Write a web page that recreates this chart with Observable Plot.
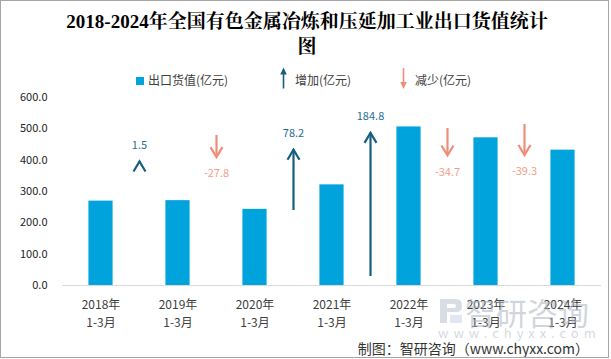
<!DOCTYPE html>
<html><head><meta charset="utf-8">
<script src="https://cdn.jsdelivr.net/npm/d3@7"></script>
<script src="https://cdn.jsdelivr.net/npm/@observablehq/plot@0.6"></script>
<style>
html,body{margin:0;padding:0;background:#fff;}
body{width:611px;height:359px;overflow:hidden;position:relative;font-family:"Noto Sans CJK SC",sans-serif;}
#chart{position:absolute;left:0;top:0;}
.frame{position:absolute;left:0;top:0;width:609px;height:358px;box-sizing:border-box;border:1px solid #a6a6a6;pointer-events:none;}
.title{position:absolute;left:0;width:614px;top:9px;text-align:center;font-weight:bold;font-size:19px;line-height:25px;font-family:"Liberation Serif","Noto Serif CJK SC","Noto Sans CJK SC",serif;color:#000;}
.lg{position:absolute;font-size:12px;line-height:16px;color:#404040;white-space:nowrap;}
.sw{position:absolute;left:136px;top:77px;width:8px;height:8px;}
.cap{position:absolute;right:22px;top:338px;font-size:14px;line-height:20px;color:#333;white-space:nowrap;}
.wm{position:absolute;pointer-events:none;white-space:nowrap;}
</style>
</head><body>
<div id="chart"></div>
<div class="title">2018-2024年全国有色金属冶炼和压延加工业出口货值统计<br>图</div>
<div class="legend"></div>
<div class="cap">制图：智研咨询（www.chyxx.com）</div>
<div class="frame"></div>
<script>
// ---- data ----
const years = ["2018年", "2019年", "2020年", "2021年", "2022年", "2023年", "2024年"];
const period = "1-3月";
const exportValue = [269.3, 270.8, 243.0, 321.2, 506.0, 471.3, 432.0];   // 出口货值(亿元)
const changeValue = [1.5, -27.8, 78.2, 184.8, -34.7, -39.3];             // 增加/减少(亿元)
const arrowBase = [392, 478.7, 239.4, 28.7, 501, 513.8];                 // arrow start (primary-axis units)
const arrowScale = 2.48;                                                  // secondary axis factor
const yTicks = [0, 100, 200, 300, 400, 500, 600];
const legendLabels = ["出口货值(亿元)", "增加(亿元)", "减少(亿元)"];

const BAR = "#00A3DB", UP = "#14607E", DOWN = "#F08C78";
const UPTXT = "#1f6f95", DOWNTXT = "#f39f8a";

const bars = exportValue.map((v, i) => ({i, v}));
const arrows = changeValue.map((c, j) => ({
  x: j + 0.5, c, base: arrowBase[j], tip: arrowBase[j] + c * arrowScale
}));
const ups = arrows.filter(d => d.c > 0);
const downs = arrows.filter(d => d.c < 0);

const chevron = {
  draw(ctx) { ctx.moveTo(-6, 10); ctx.lineTo(0, 0); ctx.lineTo(6, 10); }
};

const chart = Plot.plot({
  width: 611, height: 359,
  marginTop: 97, marginBottom: 74, marginLeft: 62, marginRight: 10,
  style: {fontFamily: '"Noto Sans CJK SC", sans-serif', background: "transparent", overflow: "visible"},
  x: {domain: [-0.5, years.length - 0.5]},
  y: {domain: [0, 600]},
  marks: [
    Plot.ruleY([0], {stroke: "#d9d9d9", strokeWidth: 1}),
    Plot.rectY(bars, {x1: d => d.i - 0.157, x2: d => d.i + 0.157, y1: 0, y2: "v", fill: BAR}),
    Plot.ruleX(ups, {x: "x", y1: "base", y2: "tip", stroke: UP, strokeWidth: 2.2}),
    Plot.ruleX(downs, {x: "x", y1: "base", y2: "tip", stroke: DOWN, strokeWidth: 2.2}),
    Plot.dot(ups, {x: "x", y: "tip", symbol: chevron, rotate: 0, fill: "none", stroke: UP, strokeWidth: 2.2, strokeLinejoin: "miter"}),
    Plot.dot(downs, {x: "x", y: "tip", symbol: chevron, rotate: 180, fill: "none", stroke: DOWN, strokeWidth: 2.2, strokeLinejoin: "miter"}),
    Plot.text(ups, {x: "x", y: "tip", text: d => d.c.toFixed(1), dy: -16.5, fill: UPTXT, fontSize: 11}),
    Plot.text(downs, {x: "x", y: "tip", text: d => d.c.toFixed(1), dy: 16.5, fill: DOWNTXT, fontSize: 11}),
    Plot.axisY(yTicks, {tickFormat: d => d.toFixed(1), tickSize: 0, tickPadding: 15, fontSize: 11, color: "#222", label: null}),
    Plot.axisX(d3.range(years.length), {tickFormat: i => years[i] + "\n" + period, tickSize: 0, tickPadding: 11, fontSize: 12, lineHeight: 1.5, color: "#404040", label: null})
  ]
});
document.getElementById("chart").appendChild(chart);

// legend
const lg = document.querySelector(".legend");
lg.innerHTML = `
  <div class="sw" style="background:${BAR}"></div>
  <div class="lg" style="left:148px;top:72px">${legendLabels[0]}</div>
  <svg style="position:absolute;left:279px;top:67px" width="9" height="22">
    <line x1="4.5" y1="6" x2="4.5" y2="21.5" stroke="${UP}" stroke-width="1.6"/>
    <polygon points="1.2,7.5 4.5,0.5 7.8,7.5" fill="${UP}"/>
  </svg>
  <div class="lg" style="left:295px;top:72px">${legendLabels[1]}</div>
  <svg style="position:absolute;left:399px;top:68px" width="9" height="22">
    <line x1="4.5" y1="0" x2="4.5" y2="15.5" stroke="${DOWN}" stroke-width="1.6"/>
    <polygon points="1.2,14 4.5,21 7.8,14" fill="${DOWN}"/>
  </svg>
  <div class="lg" style="left:415px;top:72px">${legendLabels[2]}</div>
  <svg class="wm" style="left:438px;top:297px;opacity:0.55" width="26" height="28">
    <path d="M2 2 H18 Q24 2 24 9 Q24 15 18 15 H9 V26 H2 Z M9 7 V11 H16 Q18 11 18 9 Q18 7 16 7 Z" fill="#b9c1cf" fill-rule="evenodd"/>
    <rect x="12" y="18" width="12" height="8" fill="#c9d6ea"/>
  </svg>
  <div class="wm" style="left:465px;top:292px;font-size:31px;line-height:40px;color:rgba(170,178,190,0.55)">智研咨询</div>
  <div class="wm" style="left:438px;top:324px;font-size:13px;line-height:18px;letter-spacing:5px;color:rgba(170,178,190,0.5)">www.chyxx.com</div>
`;
</script>
</body></html>
